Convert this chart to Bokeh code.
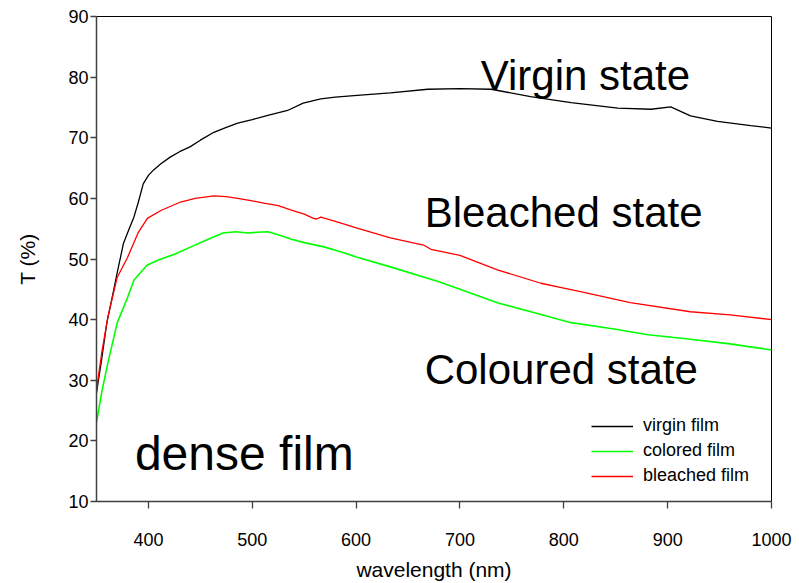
from bokeh.plotting import figure
from bokeh.models import Range1d, FixedTicker, Legend, LegendItem, Label
from bokeh.embed import file_html
from bokeh.resources import INLINE

# ---- data ----
wl_virgin = [350, 355, 360, 366, 370, 376, 381, 386, 390, 395, 400, 405, 412, 421, 430, 440,
             450, 463, 475, 486, 500, 515, 534, 549, 558, 566, 580, 601, 633, 669, 700, 730,
             768, 807, 852, 884, 903, 922, 948, 980, 1000]
t_virgin = [27.9, 33.5, 39.5, 44.4, 47.8, 52.6, 54.8, 56.9, 59.2, 62.4, 63.8, 64.7, 65.7, 66.8,
            67.7, 68.5, 69.6, 70.9, 71.7, 72.4, 73.0, 73.7, 74.5, 75.7, 76.1, 76.4, 76.7, 77.0,
            77.4, 78.0, 78.1, 78.0, 76.8, 75.8, 74.9, 74.7, 75.1, 73.6, 72.7, 72.0, 71.6]

wl_colored = [350, 355, 361, 370, 380, 386, 392, 399, 409, 425, 441, 457, 472, 484, 496, 505,
              515, 525, 537, 550, 569, 585, 601, 633, 679, 700, 736, 770, 807, 850, 881, 920,
              960, 1000]
t_colored = [23.0, 28.0, 32.9, 39.5, 43.7, 46.5, 47.7, 49.0, 49.8, 50.8, 52.0, 53.2, 54.3, 54.5,
             54.3, 54.4, 54.5, 54.0, 53.3, 52.7, 52.0, 51.2, 50.3, 48.7, 46.3, 45.0, 42.8, 41.2,
             39.5, 38.4, 37.5, 36.8, 36.0, 35.0]

wl_bleached = [350, 355, 361, 370, 380, 390, 399, 412, 431, 445, 463, 475, 486, 500, 511, 525,
               537, 550, 559, 562, 566, 580, 601, 633, 665, 672, 700, 736, 778, 800, 816, 864,
               922, 960, 1000]
t_bleached = [28.4, 34.5, 40.5, 47.0, 50.3, 54.3, 56.7, 58.0, 59.4, 60.0, 60.4, 60.3, 60.0, 59.6,
              59.2, 58.8, 58.1, 57.4, 56.7, 56.6, 56.9, 56.2, 55.1, 53.5, 52.3, 51.6, 50.6, 48.2,
              46.0, 45.2, 44.6, 42.8, 41.3, 40.8, 40.0]

x_ticks = [400, 500, 600, 700, 800, 900, 1000]
y_ticks = [10, 20, 30, 40, 50, 60, 70, 80, 90]
series_names = ["virgin film", "colored film", "bleached film"]
annotations = [("Virgin state", 720, 80.3, "42px"),
               ("Bleached state", 666, 57.6, "42px"),
               ("Coloured state", 666, 31.8, "42px"),
               ("dense film", 387, 17.9, "48px")]

FONT = "Liberation Sans"

p = figure(width=795, height=583, output_backend="svg", toolbar_location=None,
           x_range=Range1d(350, 1000), y_range=Range1d(10, 90),
           min_border_left=96, min_border_right=24, min_border_top=16, min_border_bottom=81)
p.grid.visible = False
p.outline_line_color = "black"
p.outline_line_width = 1

r_v = p.line(wl_virgin, t_virgin, line_color="black", line_width=1.3)
r_c = p.line(wl_colored, t_colored, line_color="#00ff00", line_width=1.6)
r_b = p.line(wl_bleached, t_bleached, line_color="#ff0000", line_width=1.3)

for ax in (p.xaxis[0], p.yaxis[0]):
    ax.axis_line_color = "#404040"
    ax.axis_line_width = 1.5
    ax.major_tick_line_color = "#404040"
    ax.major_tick_line_width = 1.3
    ax.major_tick_in = 0
    ax.minor_tick_line_color = None
    ax.major_label_text_font = FONT
    ax.major_label_text_font_size = "18px"
    ax.major_label_text_color = "black"
    ax.axis_label_text_font = FONT
    ax.axis_label_text_font_size = "21px"
    ax.axis_label_text_font_style = "normal"
    ax.axis_label_text_color = "black"

p.xaxis[0].ticker = FixedTicker(ticks=x_ticks)
p.yaxis[0].ticker = FixedTicker(ticks=y_ticks)
p.xaxis[0].major_tick_out = 7
p.yaxis[0].major_tick_out = 6
p.xaxis[0].major_label_standoff = 24
p.yaxis[0].major_label_standoff = 2
p.xaxis[0].axis_label = "wavelength (nm)"
p.yaxis[0].axis_label = "T (%)"
p.xaxis[0].axis_label_standoff = 9
p.yaxis[0].axis_label_standoff = 26

legend = Legend(items=[LegendItem(label=series_names[0], renderers=[r_v]),
                       LegendItem(label=series_names[1], renderers=[r_c]),
                       LegendItem(label=series_names[2], renderers=[r_b])],
                location=(495, 15), padding=0, margin=0, spacing=4,
                glyph_width=42, glyph_height=20, label_height=20, label_standoff=10,
                label_text_font=FONT, label_text_font_size="18px", label_text_color="black",
                border_line_alpha=0, background_fill_alpha=0)
p.add_layout(legend)

for txt, x, y, fs in annotations:
    p.add_layout(Label(x=x, y=y, text=txt, text_font=FONT, text_font_size=fs,
                       text_baseline="alphabetic", text_align="left", text_color="black"))

open("out.html", "w").write(file_html(p, INLINE))
